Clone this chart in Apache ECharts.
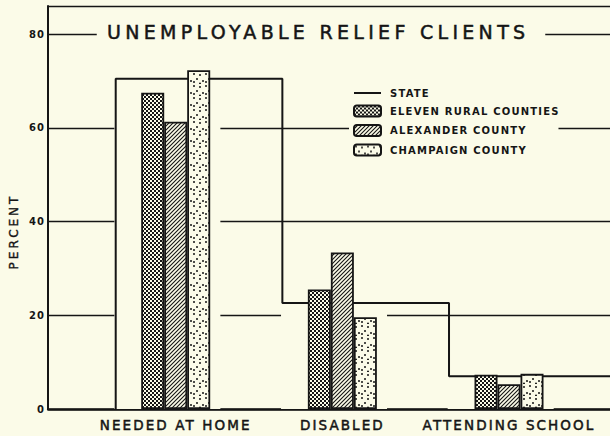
<!DOCTYPE html>
<html>
<head>
<meta charset="utf-8">
<script src="https://cdn.jsdelivr.net/npm/echarts@6/dist/echarts.min.js"></script>
<style>
  html, body { margin: 0; padding: 0; background: #fbfbe8; }
  #chart { width: 610px; height: 436px; }
  /* hand-lettered look: spaced capitals */
  #chart text[style*="19px"] { letter-spacing: 4.3px; }
  #chart text[style*="13.5px"] { letter-spacing: 2.1px; }
  #chart text[style*="12px"] { letter-spacing: 3px; }
  #chart text[style*="10px"] { letter-spacing: 1.2px; }
</style>
</head>
<body>
<div id="chart"></div>
<script>
const categories = ['NEEDED AT HOME', 'DISABLED', 'ATTENDING SCHOOL'];
const stateValues = [70.5, 22.6, 7.0];
const elevenRural = [67.5, 25.5, 7.3];
const alexander = [61.3, 33.4, 5.3];
const champaign = [72.3, 19.6, 7.5];
const yTicks = [0, 20, 40, 60, 80];

const BG = '#fbfbe8';
const INK = '#151515';
const FONT = 'DejaVu Sans';
const TITLE = 'UNEMPLOYABLE RELIEF CLIENTS';

const X_MIN = 0.235, X_MAX = 3.606;
const groupX = categories.map((c, i) => i + 1);

function tile(size, draw) {
  const c = document.createElement('canvas');
  c.width = c.height = size;
  const ctx = c.getContext('2d');
  ctx.fillStyle = BG;
  ctx.fillRect(0, 0, size, size);
  ctx.fillStyle = INK;
  ctx.strokeStyle = INK;
  draw(ctx, size);
  return { image: c, repeat: 'repeat', imageWidth: size, imageHeight: size };
}

const checker = tile(4, ctx => {
  ctx.fillRect(0, 0, 2, 2);
  ctx.fillRect(2, 2, 2, 2);
});
const hatch = tile(4, ctx => {
  ctx.lineWidth = 1.1;
  ctx.beginPath();
  ctx.moveTo(-1, 5); ctx.lineTo(5, -1);
  ctx.moveTo(-1, 1); ctx.lineTo(1, -1);
  ctx.moveTo(3, 5); ctx.lineTo(5, 3);
  ctx.stroke();
});
const dots = tile(12, ctx => {
  [[2, 2], [8, 3], [5, 7], [11, 9], [2, 10], [8, 11.5]].forEach(p => {
    ctx.beginPath();
    ctx.arc(p[0], p[1], 1, 0, Math.PI * 2);
    ctx.fill();
  });
});

function measure(text, font) {
  const ctx = document.createElement('canvas').getContext('2d');
  ctx.font = font;
  return ctx.measureText(text).width;
}
const titleW = measure(TITLE, '19px "' + FONT + '"');

// stepped outline for the state level
const stateData = [];
stateValues.forEach((v, i) => {
  const edge = groupX[i] - 0.36;
  stateData.push([edge, i === 0 ? 0 : stateValues[i - 1]], [edge, v]);
});
stateData.push([X_MAX, stateValues[stateValues.length - 1]]);

function countySeries(name, vals, pattern) {
  return {
    name: name,
    type: 'bar',
    xAxisIndex: 0,
    barWidth: 23,
    barGap: '0%',
    z: 3,
    itemStyle: { color: pattern, borderColor: INK, borderWidth: 1.8 },
    data: vals.map((v, i) => [groupX[i], v])
  };
}

const chart = echarts.init(document.getElementById('chart'), null, { renderer: 'svg' });
chart.setOption({
  backgroundColor: BG,
  animation: false,
  title: {
    text: TITLE,
    left: 97,
    top: 19,
    padding: [2, 438 - titleW, 2, 10],
    backgroundColor: BG,
    textStyle: {
      fontFamily: FONT, fontSize: 19, fontWeight: 'normal', color: INK, lineHeight: 21,
      textBorderColor: INK, textBorderWidth: 0.5
    }
  },
  legend: {
    data: [
      { name: 'STATE', itemStyle: { opacity: 0 } },
      'ELEVEN RURAL COUNTIES', 'ALEXANDER COUNTY', 'CHAMPAIGN COUNTY'
    ],
    orient: 'vertical',
    left: 349,
    top: 84,
    itemWidth: 27,
    itemHeight: 11,
    itemGap: 6.5,
    padding: [4, 24, 4, 4],
    backgroundColor: BG,
    textStyle: { fontFamily: FONT, fontSize: 10, fontWeight: 'bold', color: INK, padding: [0, 0, 0, 4] }
  },
  grid: { left: 46, right: 0, top: 6, bottom: 27 },
  xAxis: [{
    type: 'value',
    min: X_MIN,
    max: X_MAX,
    axisLine: { lineStyle: { color: INK, width: 2.5 } },
    axisTick: { show: false },
    splitLine: { show: false },
    axisLabel: {
      customValues: groupX,
      formatter: v => categories[Math.round(v) - 1],
      fontFamily: FONT, fontSize: 13.5, color: INK, margin: 9,
      textBorderColor: INK, textBorderWidth: 0.5
    }
  }, {
    type: 'value',
    min: X_MIN,
    max: X_MAX,
    show: false
  }],
  yAxis: {
    type: 'value',
    min: 0,
    max: 86,
    interval: 20,
    name: 'PERCENT',
    nameLocation: 'middle',
    nameRotate: 90,
    nameGap: 27,
    nameTextStyle: {
      fontFamily: FONT, fontSize: 12, color: INK, padding: [0, 48, 0, 0],
      textBorderColor: INK, textBorderWidth: 0.4
    },
    axisLine: { show: true, lineStyle: { color: INK, width: 2 } },
    axisTick: { show: false },
    splitLine: { lineStyle: { color: INK, width: 1.3 } },
    axisLabel: {
      formatter: v => (yTicks.indexOf(v) >= 0 ? v : ''),
      fontFamily: FONT, fontSize: 10, fontWeight: 'bold', color: INK, margin: 3
    }
  },
  series: [
    {
      // clears the grid lines around each group of bars
      type: 'bar',
      xAxisIndex: 1,
      barWidth: 106,
      z: 1,
      silent: true,
      itemStyle: { color: BG },
      data: groupX.map((x, i) => [x - 0.05, Math.max(elevenRural[i], alexander[i], champaign[i]) + 5])
    },
    {
      name: 'STATE',
      type: 'line',
      symbol: 'none',
      z: 2,
      lineStyle: { color: INK, width: 2 },
      itemStyle: { color: INK },
      data: stateData
    },
    countySeries('ELEVEN RURAL COUNTIES', elevenRural, checker),
    countySeries('ALEXANDER COUNTY', alexander, hatch),
    countySeries('CHAMPAIGN COUNTY', champaign, dots)
  ]
});
</script>
</body>
</html>
